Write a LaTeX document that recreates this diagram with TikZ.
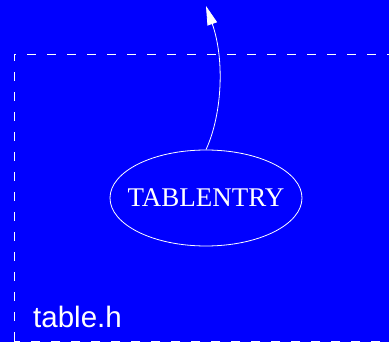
\documentclass[tikz,border=0pt]{standalone}
\usepackage{fontspec}
\setmainfont{Liberation Serif}
\newfontfamily\labelfont{Liberation Sans}
\usepackage{tikz}
\usetikzlibrary{positioning, arrows.meta, shapes.geometric}

\begin{document}
\begin{tikzpicture}[x=1pt, y=1pt, >={Triangle[length=19pt, width=10pt]},
  entry/.style={draw=white, ellipse, line width=0.8pt, minimum width=192pt,
                minimum height=96pt, inner xsep=-13pt, inner ysep=0pt, text=white,
                font=\fontsize{27}{29}\selectfont},
  cluster/.style={draw=white, dash pattern=on 9pt off 11pt, line width=0.8pt},
  clbl/.style={text=white, inner sep=0pt, anchor=base west,
               font=\labelfont\fontsize{29.5}{31}\selectfont},
]
  \fill[blue] (0,0) rectangle (389,-342);
  \useasboundingbox (0,0) rectangle (389,-342);
  % cluster frame runs off the right edge
  \begin{scope}
    \clip (0,0) rectangle (389,-342);
    \draw[cluster] (14,-341) -- (14,-54) -- (420,-54) -- (420,-341) -- cycle;
  \end{scope}
  \node[clbl] (tableh) at (33,-328) {table.h};

  \node[entry] (tabentry) at (206,-198) {TABLENTRY};
  \coordinate (out) at (206,-6);
  \draw[->, white, line width=0.8pt] (tabentry.north) .. controls (222,-115) and (225,-60) .. (out);
\end{tikzpicture}
\end{document}
